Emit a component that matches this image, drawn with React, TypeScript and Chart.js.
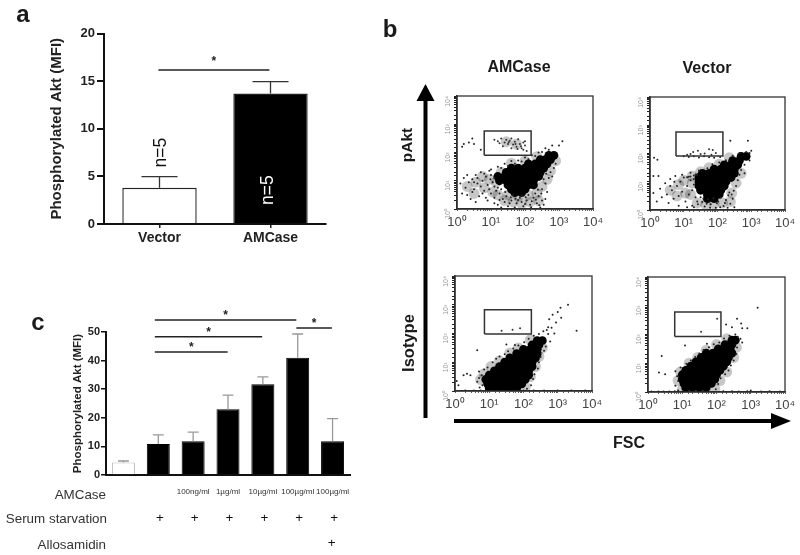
import React, { useEffect, useRef } from "react";
import { Chart, registerables } from "chart.js";

Chart.register(...registerables);

const FONT = '"Liberation Sans", Arial, sans-serif';

// Panel a
const groupsA = ["Vector", "AMCase"];
const valuesA = [3.8, 13.7];
const errTopA = [4.97, 14.95];
const colorsA = ["#ffffff", "#000000"];
const bracketsA = [[-0.01, 0.99, 16.17]];

// Panel c
const dosesC = ["", "", "100ng/ml", "1µg/ml", "10µg/ml", "100µg/ml", "100µg/ml"];
const valuesC = [4.4, 10.8, 11.8, 23, 31.7, 41, 11.8];
const errTopC = [4.9, 14, 15, 27.9, 34.3, 49.3, 19.7];
const colorsC = ["#ffffff", "#000000", "#000000", "#000000", "#000000", "#000000", "#000000"];
const serumC = ["", "+", "+", "+", "+", "+", "+"];
const alloC = ["", "", "", "", "", "", "+"];
const bracketsC = [
  [0.9, 4.96, 54.2],
  [0.9, 3.98, 48.3],
  [0.9, 2.99, 43],
  [4.96, 5.98, 51.4],
];

// Panel b: events in decades (log10 of fluorescence)
const decadeLabels = { 1: "10⁰", 10: "10¹", 100: "10²", 1000: "10³", 10000: "10⁴" };

const coreAMCasePakt = [
  [1.7, 0.58], [1.9, 0.58],
  [1.8, 0.7], [2.0, 0.7], [1.6, 0.7],
  [1.5, 0.85], [1.7, 0.85], [1.9, 0.85], [2.1, 0.85], [2.25, 0.85],
  [1.25, 1.0], [1.45, 1.0], [1.65, 1.0], [1.85, 1.0], [2.05, 1.0], [2.25, 1.0],
  [1.2, 1.15], [1.4, 1.15], [1.6, 1.15], [1.8, 1.15], [2.0, 1.15], [2.2, 1.15], [2.4, 1.15],
  [1.45, 1.3], [1.65, 1.3], [1.85, 1.3], [2.05, 1.3], [2.25, 1.3], [2.45, 1.3],
  [1.6, 1.45], [1.8, 1.45], [2.0, 1.45], [2.2, 1.45], [2.4, 1.45], [2.55, 1.45],
  [2.1, 1.6], [2.3, 1.6], [2.5, 1.6], [2.65, 1.6],
  [2.45, 1.75], [2.6, 1.75], [2.75, 1.75],
  [2.7, 1.9], [2.85, 1.9],
];
const hazeAMCasePakt = [
  [0.3, 0.8], [0.55, 0.95], [0.8, 0.75], [0.95, 1.05], [1.05, 0.6], [0.75, 1.15], [0.5, 0.55], [1.2, 0.5], [1.4, 0.3], [1.65, 0.25],
  [1.9, 0.2], [2.15, 0.25], [2.4, 0.3], [1.5, 0.5], [1.8, 0.45], [2.1, 0.5], [2.35, 0.55], [2.5, 0.8], [2.65, 1.05], [2.75, 1.35],
  [1.3, 1.3], [1.15, 0.95], [1.6, 1.62], [2.0, 1.7], [2.35, 1.85], [2.9, 1.7], [1.45, 2.38], [1.75, 2.3],
];
const dotsAMCasePakt = [
  [0.1, 0.9], [0.2, 1.1], [0.3, 1.2], [0.15, 0.55], [0.25, 0.75], [0.35, 0.95], [0.45, 1.05], [0.5, 0.7], [0.55, 1.2], [0.6, 0.9],
  [0.65, 0.45], [0.7, 1.3], [0.75, 1.0], [0.8, 0.65], [0.85, 1.15], [0.9, 0.85], [0.95, 1.35], [1.0, 0.55], [1.05, 0.95], [1.1, 0.4],
  [0.4, 0.35], [0.55, 0.25], [0.7, 0.8], [0.85, 0.4], [0.3, 0.5], [0.6, 1.1], [0.95, 0.7], [0.8, 1.25], [0.5, 0.95], [1.0, 1.2],
  [0.9, 0.3], [0.75, 0.55], [0.45, 0.6], [1.1, 1.1], [1.15, 0.65], [1.2, 0.75], [1.25, 0.55], [1.1, 0.8], [1.3, 0.7], [0.98, 1.05],
  [1.2, 0.15], [1.35, 0.35], [1.5, 0.1], [1.6, 0.3], [1.75, 0.2], [1.85, 0.4], [1.95, 0.1], [2.05, 0.3], [2.15, 0.15], [2.25, 0.4],
  [2.35, 0.2], [2.45, 0.05], [2.5, 0.3], [1.3, 0.05], [1.45, 0.45], [1.65, 0.5], [1.9, 0.25], [2.1, 0.5], [2.3, 0.55], [2.4, 0.45],
  [2.55, 0.15], [1.55, 0.2], [1.7, 0.05], [1.8, 0.32], [2.0, 0.18], [2.2, 0.27], [2.6, 0.35], [2.65, 0.6], [2.5, 0.7], [2.6, 0.9],
  [2.7, 1.1], [2.75, 1.3], [2.85, 1.45], [2.8, 1.15], [2.9, 1.6], [1.4, 0.25], [1.58, 0.42], [1.72, 0.36], [2.02, 0.42], [2.18, 0.06],
  [2.32, 0.33], [2.42, 0.13], [1.92, 0.47], [1.25, 0.32], [1.1, 0.2], [1.42, 0.6], [2.48, 0.55], [2.38, 0.68], [2.55, 1.05], [2.62, 1.25],
  [1.0, 1.4], [1.2, 1.5], [1.4, 1.6], [1.6, 1.7], [1.8, 1.72], [2.0, 1.82], [2.2, 1.9], [2.4, 2.0], [2.6, 2.15], [2.8, 2.25],
  [3.0, 2.25], [3.1, 2.4], [1.3, 1.45], [1.7, 1.6], [1.5, 1.52], [1.9, 1.68], [2.1, 1.76], [2.3, 1.88], [2.5, 2.02], [2.7, 2.1],
  [0.2, 2.3], [0.35, 2.35], [0.45, 2.5], [0.5, 2.3], [0.15, 2.2], [0.7, 2.1],
];
const gateAMCasePakt = [
  [1.1, 2.45], [1.2, 2.4], [1.3, 2.5], [1.4, 2.35], [1.45, 2.45], [1.5, 2.3], [1.55, 2.42], [1.6, 2.5], [1.65, 2.28], [1.7, 2.38],
  [1.75, 2.2], [1.8, 2.47], [1.85, 2.3], [1.9, 2.15], [1.95, 2.35], [2.0, 2.25], [2.05, 2.05], [1.6, 2.15], [1.35, 2.22], [1.95, 2.1],
  [2.0, 2.4], [1.72, 2.3], [1.88, 2.22], [1.52, 2.36], [1.25, 2.33], [1.78, 2.12],
];

const coreVectorPakt = [
  [1.7, 0.4], [1.9, 0.4],
  [1.7, 0.55], [1.9, 0.55], [2.05, 0.55],
  [1.5, 0.7], [1.7, 0.7], [1.9, 0.7], [2.1, 0.7],
  [1.45, 0.85], [1.65, 0.85], [1.85, 0.85], [2.05, 0.85], [2.2, 0.85],
  [1.45, 1.0], [1.65, 1.0], [1.85, 1.0], [2.05, 1.0], [2.25, 1.0],
  [1.45, 1.15], [1.65, 1.15], [1.85, 1.15], [2.05, 1.15], [2.25, 1.15], [2.4, 1.15],
  [1.55, 1.3], [1.75, 1.3], [1.95, 1.3], [2.15, 1.3], [2.35, 1.3], [2.5, 1.3],
  [1.9, 1.45], [2.1, 1.45], [2.3, 1.45], [2.5, 1.45],
  [2.2, 1.6], [2.4, 1.6], [2.6, 1.6],
  [2.45, 1.75], [2.65, 1.75],
  [2.7, 1.9], [2.85, 1.9],
];
const hazeVectorPakt = [
  [0.6, 0.7], [0.85, 0.9], [1.05, 0.6], [1.0, 1.05], [1.25, 0.95], [1.2, 0.55], [1.4, 0.25], [1.65, 0.2], [1.9, 0.22], [2.15, 0.25],
  [2.38, 0.3], [2.42, 0.6], [2.55, 0.95], [2.7, 1.3], [1.5, 1.35], [1.75, 1.5], [2.05, 1.62], [2.35, 1.85], [0.8, 0.5], [1.25, 1.2],
];
const dotsVectorPakt = [
  [0.1, 0.6], [0.2, 0.3], [0.3, 0.75], [0.35, 0.45], [0.45, 0.95], [0.5, 0.55], [0.55, 0.25], [0.6, 1.1], [0.65, 0.7], [0.7, 0.4],
  [0.75, 1.2], [0.8, 0.85], [0.85, 0.5], [0.9, 1.0], [0.95, 0.65], [1.0, 1.15], [1.05, 0.3], [1.1, 0.85], [1.15, 0.55], [1.2, 1.05],
  [0.6, 0.85], [0.25, 1.2], [0.95, 1.25], [0.72, 1.0], [1.3, 0.9], [1.25, 0.7], [1.35, 0.45], [1.3, 1.1], [1.1, 1.16], [1.2, 1.19],
  [1.3, 1.22], [1.4, 1.24], [1.15, 1.18], [1.35, 1.26], [1.25, 0.15], [1.1, 0.1], [0.85, 0.15], [1.4, 0.3],
  [1.3, 0.1], [1.42, 0.2], [1.5, 0.45], [1.55, 0.28], [1.62, 0.12], [1.72, 0.38], [1.8, 0.2], [1.88, 0.42], [1.95, 0.08], [2.02, 0.3],
  [2.1, 0.44], [2.18, 0.14], [2.25, 0.35], [2.32, 0.52], [2.38, 0.22], [2.45, 0.4], [2.5, 0.1], [1.58, 0.4], [1.68, 0.22], [1.78, 0.08],
  [1.98, 0.24], [2.08, 0.1], [2.22, 0.25], [2.3, 0.08], [2.42, 0.55], [2.48, 0.68], [2.35, 0.62], [2.55, 0.85], [2.6, 1.05], [2.65, 1.25],
  [2.7, 1.42], [2.8, 1.6], [2.95, 1.75], [1.2, 1.32], [1.45, 1.4], [1.7, 1.48], [1.85, 1.62], [2.05, 1.68], [2.25, 1.76], [2.45, 1.92],
  [2.65, 2.02], [2.85, 2.05], [2.95, 2.02], [3.0, 2.1], [1.0, 1.9], [1.15, 1.88], [1.3, 1.9], [1.45, 1.86], [1.6, 1.9], [1.75, 1.87],
  [1.9, 1.85], [2.08, 1.88], [0.12, 1.85], [0.22, 1.78], [0.1, 1.2], [2.8, 1.3], [2.38, 2.45], [2.9, 2.45],
];
const gateVectorPakt = [
  [1.28, 2.05], [1.42, 2.1], [1.5, 1.98], [1.62, 2.0], [1.75, 2.15], [1.82, 1.96], [1.86, 2.12], [1.95, 2.02], [1.1, 1.96], [1.2, 1.98],
];

const coreAMCaseIso = [
  [1.0, 0.1], [1.2, 0.1], [1.4, 0.1], [1.6, 0.1], [1.8, 0.1],
  [0.95, 0.25], [1.15, 0.25], [1.35, 0.25], [1.55, 0.25], [1.75, 0.25], [1.95, 0.25],
  [0.9, 0.4], [1.1, 0.4], [1.3, 0.4], [1.5, 0.4], [1.7, 0.4], [1.9, 0.4], [2.05, 0.4],
  [1.0, 0.55], [1.2, 0.55], [1.4, 0.55], [1.6, 0.55], [1.8, 0.55], [2.0, 0.55], [2.15, 0.55],
  [1.15, 0.7], [1.35, 0.7], [1.55, 0.7], [1.75, 0.7], [1.95, 0.7], [2.15, 0.7],
  [1.3, 0.85], [1.5, 0.85], [1.7, 0.85], [1.9, 0.85], [2.1, 0.85], [2.25, 0.85],
  [1.45, 1.0], [1.65, 1.0], [1.85, 1.0], [2.05, 1.0], [2.25, 1.0],
  [1.6, 1.15], [1.8, 1.15], [2.0, 1.15], [2.2, 1.15], [2.35, 1.15],
  [1.8, 1.3], [2.0, 1.3], [2.2, 1.3], [2.4, 1.3],
  [2.0, 1.45], [2.2, 1.45], [2.4, 1.45],
  [2.25, 1.6], [2.45, 1.6],
  [2.4, 1.75], [2.55, 1.75],
];
const hazeAMCaseIso = [
  [0.75, 0.4], [0.85, 0.6], [1.05, 0.85], [1.3, 1.05], [1.6, 1.32], [1.85, 1.5], [2.2, 1.78], [2.55, 1.5], [2.45, 1.2], [2.35, 0.85],
  [2.2, 0.5], [2.05, 0.15],
];
const dotsAMCaseIso = [
  [0.1, 0.2], [0.25, 0.55], [0.35, 0.6], [0.45, 0.55], [0.05, 0.35], [0.7, 0.68], [0.65, 0.32], [0.55, 0.02], [0.3, 0.02], [0.75, 0.02],
  [0.85, 0.75], [0.95, 0.82], [0.7, 0.45], [0.78, 0.55], [0.8, 0.2], [0.72, 0.12], [1.1, 1.0], [1.2, 1.12], [1.3, 1.2], [1.45, 1.28],
  [1.55, 1.38], [1.7, 1.48], [1.85, 1.58], [2.02, 1.7], [2.15, 1.82], [2.3, 1.92], [2.45, 1.98], [2.58, 2.08], [2.68, 2.12], [2.72, 2.22],
  [2.82, 2.2], [0.65, 1.42], [1.5, 1.62], [1.75, 1.6], [2.22, 0.2], [2.1, 0.08], [2.28, 0.42], [2.32, 0.58], [2.42, 0.78], [2.45, 1.0],
  [2.5, 1.18], [2.6, 1.4], [2.65, 1.55], [2.78, 1.72], [2.9, 2.0], [2.72, 1.98], [2.75, 2.5], [2.85, 2.65], [3.0, 2.75], [3.08, 2.9],
  [3.3, 3.0], [3.55, 2.1], [2.95, 2.38], [3.1, 2.55], [2.0, 0.02], [2.3, 0.02], [2.6, 0.02], [3.0, 0.02], [3.4, 0.02], [3.8, 0.02],
];
const gateAMCaseIso = [[1.36, 2.1], [1.68, 2.13], [1.9, 2.18]];

const coreVectorIso = [
  [1.1, 0.15], [1.3, 0.15], [1.5, 0.15], [1.7, 0.15],
  [1.05, 0.3], [1.25, 0.3], [1.45, 0.3], [1.65, 0.3], [1.85, 0.3],
  [1.0, 0.45], [1.2, 0.45], [1.4, 0.45], [1.6, 0.45], [1.8, 0.45], [1.95, 0.45],
  [1.0, 0.6], [1.2, 0.6], [1.4, 0.6], [1.6, 0.6], [1.8, 0.6], [2.0, 0.6],
  [1.1, 0.75], [1.3, 0.75], [1.5, 0.75], [1.7, 0.75], [1.9, 0.75], [2.1, 0.75],
  [1.25, 0.9], [1.45, 0.9], [1.65, 0.9], [1.85, 0.9], [2.05, 0.9], [2.2, 0.9],
  [1.4, 1.05], [1.6, 1.05], [1.8, 1.05], [2.0, 1.05], [2.2, 1.05], [2.3, 1.05],
  [1.55, 1.2], [1.75, 1.2], [1.95, 1.2], [2.15, 1.2], [2.35, 1.2],
  [1.7, 1.35], [1.9, 1.35], [2.1, 1.35], [2.3, 1.35], [2.45, 1.35],
  [2.05, 1.5], [2.25, 1.5], [2.4, 1.5],
  [2.25, 1.65], [2.45, 1.65],
  [2.45, 1.8], [2.55, 1.8],
];
const hazeVectorIso = [
  [0.88, 0.4], [0.95, 0.7], [1.2, 1.0], [1.45, 1.2], [1.7, 1.45], [2.0, 1.65], [2.3, 1.85], [2.58, 1.55], [2.5, 1.2], [2.3, 0.7],
  [2.1, 0.4], [1.95, 0.1], [1.0, 0.08],
];
const dotsVectorIso = [
  [0.32, 0.68], [0.5, 0.62], [0.8, 0.72], [0.4, 1.25], [1.08, 1.62], [0.1, 0.02], [0.3, 0.02], [0.45, 0.02], [0.62, 0.02], [0.78, 0.03],
  [0.88, 0.05], [0.8, 0.22], [0.88, 0.38], [0.85, 0.55], [0.95, 0.85], [1.12, 0.98], [1.25, 1.1], [1.38, 1.22], [1.5, 1.34], [1.62, 1.46],
  [1.78, 1.56], [1.92, 1.66], [2.08, 1.72], [2.22, 1.86], [2.38, 1.96], [2.55, 2.0], [2.62, 1.92], [2.7, 1.85], [2.75, 1.72], [2.6, 1.55],
  [2.58, 1.32], [2.5, 1.1], [2.42, 0.92], [2.35, 0.75], [2.25, 0.62], [2.12, 0.48], [2.05, 0.28], [1.98, 0.1], [2.2, 0.03], [2.45, 0.03],
  [2.65, 0.02], [2.9, 0.03], [3.0, 0.05], [3.3, 0.02], [3.55, 0.03], [3.85, 0.02], [2.28, 2.35], [2.45, 2.25], [2.72, 2.38], [2.75, 2.22],
  [2.9, 2.22], [3.2, 2.93], [2.6, 2.55], [1.72, 1.68],
];
const gateVectorIso = [[1.55, 2.1], [2.02, 2.55]];

const gateBoxes = {
  amcasePakt: [[0.8, 1.9], [2.18, 1.9], [2.18, 2.76], [0.8, 2.76], [0.8, 1.9]],
  vectorPakt: [[0.77, 1.91], [2.16, 1.91], [2.16, 2.76], [0.77, 2.76], [0.77, 1.91]],
  amcaseIso: [[0.86, 1.98], [2.23, 1.98], [2.23, 2.83], [0.86, 2.83], [0.86, 1.98]],
  vectorIso: [[0.78, 1.93], [2.13, 1.93], [2.13, 2.78], [0.78, 2.78], [0.78, 1.93]],
};

const fromDecades = (pts: number[][]) => pts.map(([x, y]) => ({ x: 10 ** x, y: 10 ** y }));

type Box = { left: number; top: number; right: number; bottom: number };

const frameStyle = (b: Box): React.CSSProperties => ({
  position: "absolute",
  left: b.left,
  top: b.top,
  width: b.right - b.left,
  height: b.bottom - b.top,
});

function barPlugin(err: number[], capHalf: number, color: string, lines: number[][], starDy: number, extra?: (c: any) => void) {
  return {
    id: "marks",
    afterDatasetsDraw(chart: any) {
      const { ctx, scales } = chart;
      const { x, y } = scales;
      ctx.save();
      ctx.strokeStyle = color;
      ctx.lineWidth = 1.3;
      err.forEach((top: number, i: number) => {
        const px = x.getPixelForValue(i);
        const v = chart.data.datasets[0].data[i];
        ctx.beginPath();
        ctx.moveTo(px, y.getPixelForValue(v));
        ctx.lineTo(px, y.getPixelForValue(top));
        ctx.moveTo(px - capHalf, y.getPixelForValue(top));
        ctx.lineTo(px + capHalf, y.getPixelForValue(top));
        ctx.stroke();
      });
      ctx.strokeStyle = "#222";
      ctx.lineWidth = 1.5;
      ctx.fillStyle = "#222";
      ctx.font = `bold 12px ${FONT}`;
      ctx.textAlign = "center";
      ctx.textBaseline = "middle";
      lines.forEach(([a, b, v]) => {
        const xa = x.getPixelForValue(a);
        const xb = x.getPixelForValue(b);
        const py = y.getPixelForValue(v);
        ctx.beginPath();
        ctx.moveTo(xa, py);
        ctx.lineTo(xb, py);
        ctx.stroke();
        ctx.fillText("*", (xa + xb) / 2, py - starDy);
      });
      if (extra) extra(chart);
      ctx.restore();
    },
  };
}

function PanelA() {
  const ref = useRef<HTMLCanvasElement>(null);
  const box: Box = { left: 0, top: 0, right: 340, bottom: 260 };
  useEffect(() => {
    const chart = new Chart(ref.current!, {
      type: "bar",
      data: {
        labels: groupsA,
        datasets: [{ data: valuesA, backgroundColor: colorsA, borderColor: "#222", borderWidth: 1.4, barPercentage: 0.67, categoryPercentage: 1 }],
      },
      options: {
        animation: false,
        responsive: false,
        layout: { padding: { top: 33.5, right: 14, left: 0, bottom: 0 } },
        plugins: { legend: { display: false }, tooltip: { enabled: false } },
        scales: {
          x: {
            afterFit: (s: any) => { s.height = 36; },
            grid: { display: true, offset: false, drawOnChartArea: false, tickLength: 4, color: "#222", lineWidth: 1.5 },
            border: { color: "#111", width: 2 },
            ticks: { color: "#222", padding: 2, font: { family: FONT, size: 14, weight: "bold" } },
          },
          y: {
            min: 0,
            max: 20,
            afterFit: (s: any) => { s.width = 104; },
            grid: { display: true, drawOnChartArea: false, tickLength: 7, color: "#111", lineWidth: 2 },
            border: { color: "#111", width: 2 },
            ticks: { stepSize: 5, color: "#222", padding: 2, font: { family: FONT, size: 13, weight: "bold" } },
            title: { display: true, text: "Phosphorylated Akt (MFI)", color: "#222", font: { family: FONT, size: 15, weight: "bold" }, padding: { top: 48, bottom: 48 } },
          },
        },
      },
      plugins: [
        barPlugin(errTopA, 18, "#333", bracketsA, 8, (c: any) => {
          const { ctx, scales } = c;
          const labelAt = (i: number, v: number, color: string, dx: number) => {
            ctx.save();
            ctx.translate(scales.x.getPixelForValue(i) + dx, scales.y.getPixelForValue(v));
            ctx.rotate(-Math.PI / 2);
            ctx.fillStyle = color;
            ctx.font = `17.5px ${FONT}`;
            ctx.fillText("n=5", 0, 0);
            ctx.restore();
          };
          labelAt(0, 7.5, "#111", 2);
          labelAt(1, 3.55, "#fff", -2);
        }),
      ],
    } as any);
    return () => chart.destroy();
  }, []);
  return <canvas ref={ref} width={340} height={260} style={frameStyle(box)} />;
}

function PanelC() {
  const ref = useRef<HTMLCanvasElement>(null);
  const box: Box = { left: 0, top: 300, right: 370, bottom: 555 };
  useEffect(() => {
    const chart = new Chart(ref.current!, {
      type: "bar",
      data: {
        labels: dosesC,
        datasets: [{ data: valuesC, backgroundColor: colorsC, borderColor: ["#bbb", "#000", "#000", "#000", "#000", "#000", "#000"], borderWidth: 1, barPercentage: 0.66, categoryPercentage: 1 }],
      },
      options: {
        animation: false,
        responsive: false,
        layout: { padding: { top: 32, right: 20, left: 0, bottom: 0 } },
        plugins: { legend: { display: false }, tooltip: { enabled: false } },
        scales: {
          x: {
            afterFit: (s: any) => { s.height = 80; },
            grid: { display: false },
            border: { color: "#111", width: 2 },
            ticks: { color: "#333", padding: 4, autoSkip: false, maxRotation: 0, minRotation: 0, font: { family: FONT, size: 8 } },
          },
          y: {
            min: 0,
            max: 50,
            afterFit: (s: any) => { s.width = 106; },
            grid: { display: true, drawOnChartArea: false, tickLength: 5, color: "#111", lineWidth: 1.5 },
            border: { color: "#111", width: 2 },
            ticks: { stepSize: 10, color: "#222", padding: 1, font: { family: FONT, size: 11, weight: "bold" } },
            title: { display: true, text: "Phosphorylated Akt (MFI)", color: "#222", font: { family: FONT, size: 11.5, weight: "bold" }, padding: { top: 71, bottom: 71 } },
          },
        },
      },
      plugins: [
        barPlugin(errTopC, 5.5, "#999", bracketsC, 4, (c: any) => {
          const { ctx, scales } = c;
          ctx.fillStyle = "#333";
          ctx.font = `13.4px ${FONT}`;
          ctx.textAlign = "right";
          ctx.fillText("AMCase", 106, 195);
          ctx.fillText("Serum starvation", 107, 219);
          ctx.fillText("Allosamidin", 106, 245);
          ctx.textAlign = "center";
          ctx.fillStyle = "#111";
          serumC.forEach((t, i) => { if (t) ctx.fillText(t, scales.x.getPixelForValue(i) + 1.5, 218); });
          alloC.forEach((t, i) => { if (t) ctx.fillText(t, scales.x.getPixelForValue(i) - 1, 243); });
        }),
      ],
    } as any);
    return () => chart.destroy();
  }, []);
  return <canvas ref={ref} width={370} height={255} style={frameStyle(box)} />;
}

type DotProps = { plot: Box; core: number[][]; haze: number[][]; dots: number[][]; gate: number[][]; gateBox: number[][] };

function DotPlot({ plot, core, haze, dots, gate, gateBox }: DotProps) {
  const ref = useRef<HTMLCanvasElement>(null);
  const box: Box = { left: plot.left - 26, top: plot.top - 14, right: plot.right + 15, bottom: plot.bottom + 24 };
  const w = box.right - box.left;
  const h = box.bottom - box.top;
  useEffect(() => {
    const axis = {
      type: "logarithmic",
      min: 1,
      max: 10000,
      border: { color: "#222", width: 1.5 },
    };
    const chart = new Chart(ref.current!, {
      type: "scatter",
      data: {
        datasets: [
          { data: fromDecades(core), pointRadius: 4.4, backgroundColor: "#000", borderWidth: 0, order: 2 },
          { data: fromDecades(haze), pointRadius: 5.5, backgroundColor: "rgba(0,0,0,0.22)", borderWidth: 0, order: 3 },
          { data: fromDecades(dots), pointRadius: 1, backgroundColor: "#222", borderWidth: 0, order: 1 },
          { data: fromDecades(gate), pointRadius: 1, backgroundColor: "#333", borderWidth: 0, order: 1 },
          { data: fromDecades(gateBox), showLine: true, pointRadius: 0, borderColor: "#333", borderWidth: 1.5, tension: 0, order: 0 },
        ],
      },
      options: {
        animation: false,
        responsive: false,
        layout: { padding: { top: 14, right: 15, left: 0, bottom: 0 } },
        plugins: { legend: { display: false }, tooltip: { enabled: false } },
        scales: {
          x: {
            ...axis,
            afterFit: (s: any) => { s.height = 24; },
            grid: { display: true, drawOnChartArea: false, tickLength: 2, color: "#333", lineWidth: 0.8 },
            ticks: {
              autoSkip: false,
              maxRotation: 0,
              minRotation: 0,
              color: "#444",
              padding: 4,
              font: { family: FONT, size: 13 },
              callback: (v: number) => (decadeLabels as any)[v] ?? "",
            },
          },
          y: {
            ...axis,
            afterFit: (s: any) => { s.width = 26; },
            grid: { display: true, drawOnChartArea: false, tickLength: 3, color: "#222", lineWidth: 1 },
            ticks: {
              autoSkip: false,
              minRotation: 90,
              maxRotation: 90,
              color: "#999",
              padding: 6,
              font: { family: FONT, size: 7 },
              callback: (v: number) => (decadeLabels as any)[v] ?? "",
            },
          },
        },
      },
      plugins: [
        {
          id: "frame",
          afterDraw(c: any) {
            const { ctx, chartArea: a } = c;
            ctx.save();
            ctx.strokeStyle = "#333";
            ctx.lineWidth = 1.3;
            ctx.strokeRect(a.left, a.top, a.right - a.left, a.bottom - a.top);
            ctx.restore();
          },
        },
      ],
    } as any);
    return () => chart.destroy();
  }, []);
  return <canvas ref={ref} width={w} height={h} style={frameStyle(box)} />;
}

const label = (
  text: string,
  x: number,
  y: number,
  size: number,
  rotate = false
): React.ReactElement => (
  <span
    key={text}
    style={{
      position: "absolute",
      left: x,
      top: y,
      transform: `translate(-50%, -50%)${rotate ? " rotate(-90deg)" : ""}`,
      fontFamily: FONT,
      fontWeight: "bold",
      fontSize: size,
      color: "#1a1a1a",
      whiteSpace: "nowrap",
      lineHeight: 1,
    }}
  >
    {text}
  </span>
);

export default function App() {
  return (
    <div style={{ position: "absolute", left: 0, top: 0, width: 800, height: 555, background: "#fff", overflow: "hidden" }}>
      <PanelA />
      <PanelC />
      <DotPlot plot={{ left: 457, top: 96, right: 593, bottom: 209 }} core={coreAMCasePakt} haze={hazeAMCasePakt} dots={dotsAMCasePakt} gate={gateAMCasePakt} gateBox={gateBoxes.amcasePakt} />
      <DotPlot plot={{ left: 650, top: 97, right: 785, bottom: 210 }} core={coreVectorPakt} haze={hazeVectorPakt} dots={dotsVectorPakt} gate={gateVectorPakt} gateBox={gateBoxes.vectorPakt} />
      <DotPlot plot={{ left: 455, top: 276, right: 592, bottom: 391 }} core={coreAMCaseIso} haze={hazeAMCaseIso} dots={dotsAMCaseIso} gate={gateAMCaseIso} gateBox={gateBoxes.amcaseIso} />
      <DotPlot plot={{ left: 648, top: 277, right: 785, bottom: 392 }} core={coreVectorIso} haze={hazeVectorIso} dots={dotsVectorIso} gate={gateVectorIso} gateBox={gateBoxes.vectorIso} />
      <svg width={800} height={555} style={{ position: "absolute", left: 0, top: 0, pointerEvents: "none" }}>
        <rect x={423.5} y={98} width={4} height={320} fill="#000" />
        <polygon points="425.5,84 416.5,101 434.5,101" fill="#000" />
        <rect x={454} y={419} width={320} height={4} fill="#000" />
        <polygon points="791,421 771,413 771,429" fill="#000" />
      </svg>
      {label("a", 23, 14, 24)}
      {label("b", 390, 29, 24)}
      {label("c", 38, 322, 24)}
      {label("AMCase", 519, 67, 16)}
      {label("Vector", 707, 68, 16)}
      {label("pAkt", 407, 145, 15.5, true)}
      {label("Isotype", 408, 343, 16.5, true)}
      {label("FSC", 629, 443, 16)}
    </div>
  );
}
